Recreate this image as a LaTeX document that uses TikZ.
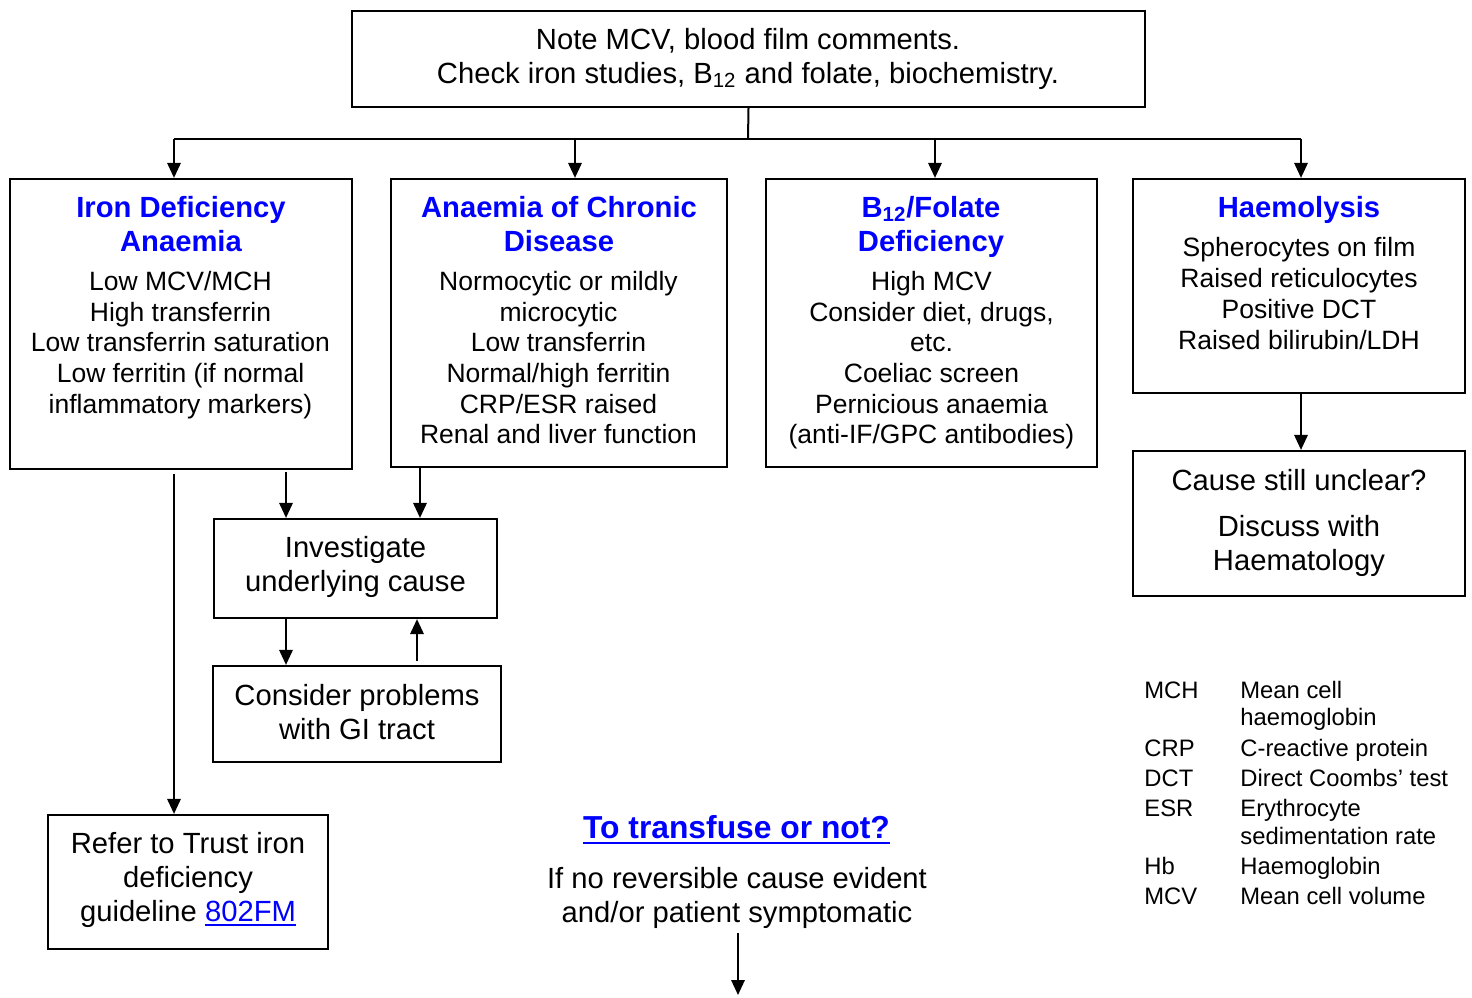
\documentclass[tikz,border=0pt]{standalone}
\usepackage{fontspec}
\setmainfont{Liberation Sans}
\usetikzlibrary{arrows.meta}
\definecolor{linkblue}{RGB}{0,0,255}
\newcommand\myunder[3]{\setbox0\hbox{#3}\rlap{\rule[#1]{\wd0}{#2}}\box0}
\tikzset{
  box/.style={draw, line width=1.1pt, inner sep=0pt},
  conn/.style={line width=1pt},
  arr/.style={line width=1pt, -{Triangle[length=7.5pt,width=6.7pt]}},
  body/.style={font=\fontsize{13.25}{15.35}\selectfont, align=center, inner sep=0pt},
  big/.style={font=\fontsize{14.6}{17}\selectfont, align=center, inner sep=0pt},
  ttl/.style={font=\fontsize{14.6}{17}\selectfont\bfseries, text=linkblue, align=center, inner sep=0pt},
  leg/.style={font=\fontsize{11.9}{13.5}\selectfont, align=left, inner sep=0pt, anchor=west}
}
\begin{document}
\begin{tikzpicture}[x=0.5pt,y=-0.5pt]
\useasboundingbox (0,0) rectangle (1472,997);
\fill[white] (0,0) rectangle (1472,997);

% boxes
\node[box, minimum width=396.5pt, minimum height=48pt] (top) at (748.5,59) {};
\node[box, minimum width=171pt, minimum height=145pt] (b1) at (181,324) {};
\node[box, minimum width=168pt, minimum height=144pt] (b2) at (559,323) {};
\node[box, minimum width=165.5pt, minimum height=144pt] (b3) at (931.5,323) {};
\node[box, minimum width=166pt, minimum height=107pt] (b4) at (1299,286) {};
\node[box, minimum width=166pt, minimum height=72.5pt] (b5) at (1299,523.5) {};
\node[box, minimum width=141.5pt, minimum height=49.5pt] (inv) at (355.5,568.5) {};
\node[box, minimum width=144pt, minimum height=48pt] (cons) at (357,714) {};
\node[box, minimum width=140pt, minimum height=67pt] (refer) at (188,882) {};

% texts
\node[big] (ttop) at (748,59.65) {\strut Note MCV, blood film comments.\\ \strut Check iron studies, B\textsubscript{12} and folate, biochemistry.};

\node[ttl] (t1) at (181,227.6) {\strut Iron Deficiency\\ \strut Anaemia};
\node[body] (d1) at (180.5,345.8) {\strut Low MCV/MCH\\ \strut High transferrin\\ \strut Low transferrin saturation\\ \strut Low ferritin (if normal\\ \strut inflammatory markers)};

\node[ttl] (t2) at (559,227.6) {\strut Anaemia of Chronic\\ \strut Disease};
\node[body] (d2) at (558.5,361.1) {\strut Normocytic or mildly\\ \strut microcytic\\ \strut Low transferrin\\ \strut Normal/high ferritin\\ \strut CRP/ESR raised\\ \strut Renal and liver function};

\node[ttl] (t3) at (931,227.6) {\strut B\textsubscript{12}/Folate\\ \strut Deficiency};
\node[body] (d3) at (931.5,361.1) {\strut High MCV\\ \strut Consider diet, drugs,\\ \strut etc.\\ \strut Coeliac screen\\ \strut Pernicious anaemia\\ \strut (anti-IF/GPC antibodies)};

\node[ttl] (t4) at (1299,210.7) {\strut Haemolysis};
\node[font=\fontsize{13.25}{15.5}\selectfont, align=center, inner sep=0pt] (d4) at (1299,296.8) {\strut Spherocytes on film\\ \strut Raised reticulocytes\\ \strut Positive DCT\\ \strut Raised bilirubin/LDH};

\node[big] (q5) at (1299,483.65) {\strut Cause still unclear?};
\node[big] (d5) at (1299,546.65) {\strut Discuss with\\ \strut Haematology};

\node[big] (tinv) at (355.5,567.65) {\strut Investigate\\ \strut underlying cause};
\node[big] (tcons) at (357,715.65) {\strut Consider problems\\ \strut with GI tract};
\node[big] (tref) at (188,880.65) {\strut Refer to Trust iron\\ \strut deficiency\\ \strut guideline \textcolor{linkblue}{\myunder{-2.4pt}{0.9pt}{802FM}}};

\node[font=\fontsize{15.9}{18}\selectfont\bfseries, text=linkblue, inner sep=0pt] (tr1) at (736.5,831.2) {\strut\myunder{-2.9pt}{1.2pt}{To transfuse or not?}};
\node[big] (tr2) at (737,898.65) {\strut If no reversible cause evident\\ \strut and/or patient symptomatic};

% legend
\node[leg] (lk1) at (1144,693.1) {\strut MCH};
\node[leg] (lv1) at (1240,706.6) {\strut Mean cell\\ \strut haemoglobin};
\node[leg] (lk2) at (1144,751.1) {\strut CRP};
\node[leg] (lv2) at (1240,751.1) {\strut C-reactive protein};
\node[leg] (lk3) at (1144,781.1) {\strut DCT};
\node[leg] (lv3) at (1240,781.1) {\strut Direct Coombs’ test};
\node[leg] (lk4) at (1144,811.1) {\strut ESR};
\node[leg, font=\fontsize{11.9}{14}\selectfont] (lv4) at (1240,825.1) {\strut Erythrocyte\\ \strut sedimentation rate};
\node[leg] (lk5) at (1144,869.1) {\strut Hb};
\node[leg] (lv5) at (1240,869.1) {\strut Haemoglobin};
\node[leg] (lk6) at (1144,899.1) {\strut MCV};
\node[leg] (lv6) at (1240,899.1) {\strut Mean cell volume};

% connector coordinates
\coordinate (bus) at (748,139);
\coordinate (c1) at (174,139);
\coordinate (c2) at (575,139);
\coordinate (c3) at (935,139);
\coordinate (c4) at (1301,139);
\coordinate (x286) at (286,0);
\coordinate (x420) at (420,0);
\coordinate (x417) at (417,0);
\coordinate (tend) at (738,995);

% connectors
\draw[conn] (top.south) -- (bus);
\draw[conn] (c1) -- (c4);
\draw[arr] (c1) -- (c1 |- b1.north);
\draw[arr] (c2) -- (c2 |- b2.north);
\draw[arr] (c3) -- (c3 |- b3.north);
\draw[arr] (c4) -- (c4 |- b4.north);
\draw[arr] (c4 |- b4.south) -- (c4 |- b5.north);
\draw[arr] ([yshift=-1pt]x286 |- b1.south) -- (x286 |- inv.north);
\draw[arr] (x420 |- b2.south) -- (x420 |- inv.north);
\draw[arr] (x286 |- inv.south) -- (x286 |- cons.north);
\draw[arr] ([yshift=2pt]x417 |- cons.north) -- (x417 |- inv.south);
\draw[arr] ([yshift=-2pt]c1 |- b1.south) -- (c1 |- refer.north);
\draw[arr] (tend |- tr2.south) -- (tend);
\end{tikzpicture}
\end{document}
